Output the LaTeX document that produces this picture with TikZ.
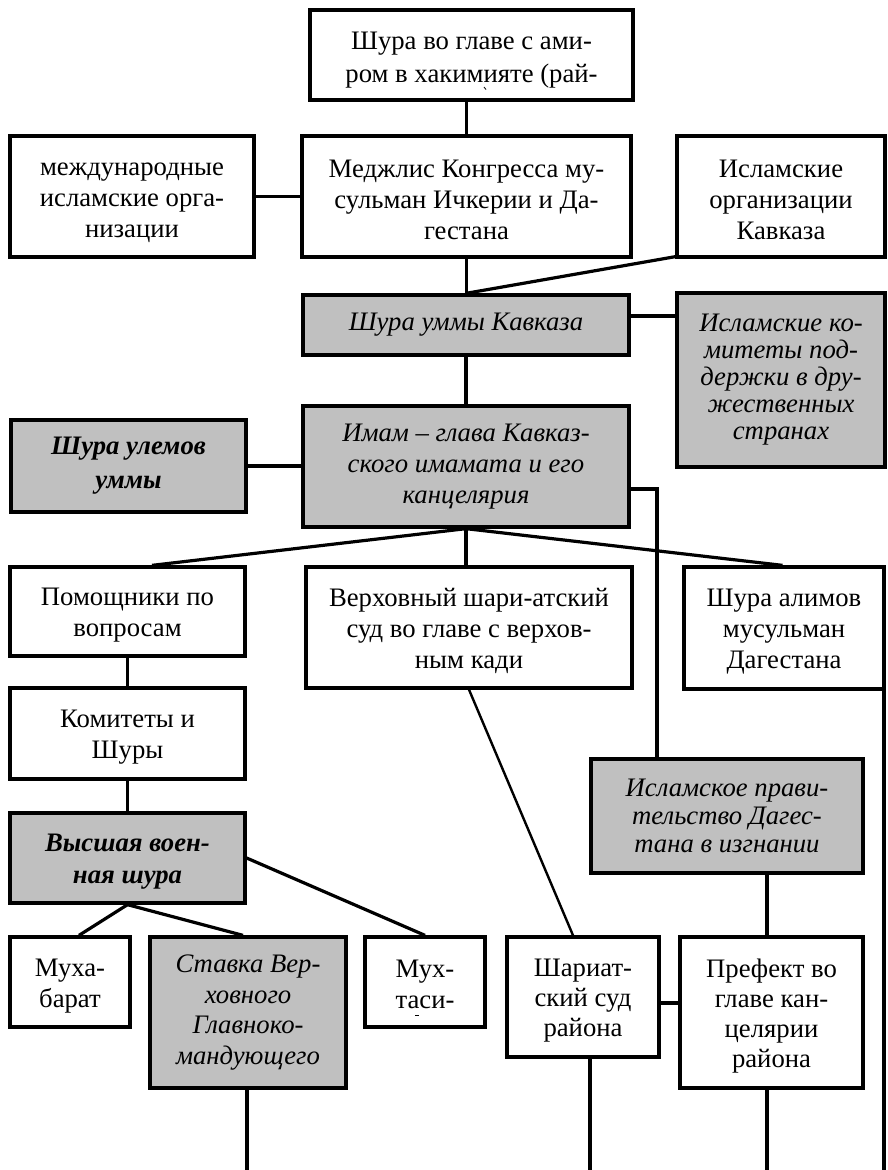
\documentclass[tikz,border=0pt]{standalone}
\usepackage{fontspec}
\setmainfont{Liberation Serif}
\definecolor{boxgray}{RGB}{192,192,192}
\newcommand\fsz{\fontsize{26.7}{31}\selectfont}
\newcommand\dn{\rule{0pt}{25pt}}
\tikzset{
  box/.style={draw, line width=3.3pt, inner sep=0pt, align=center, font=\fsz},
  graybox/.style={box, fill=boxgray},
  conn/.style={line width=3.2pt},
  thinconn/.style={line width=2.4pt},
  txt/.style={inner sep=0pt, align=center, font=\fsz}
}
\begin{document}
\begin{tikzpicture}[x=1pt,y=-1pt]
\useasboundingbox (0,0) rectangle (887,1170);
% top
\node[box, minimum width=323pt, minimum height=90pt] (top) at (471.5,55) {};
\node[txt, font=\fontsize{26.7}{33}\selectfont] (toptext) at (471.5,60) {Шура во главе с ами-\\ром в хакимияте (рай-};
\draw[line width=0.8pt] (484,87) -- (486,89.5);
% row 2
\node[box, minimum width=244pt, minimum height=121pt] (intl) at (132,196.5) {\dn международные\\исламские орга-\\низации};
\node[box, minimum width=329pt, minimum height=121pt] (medz) at (466.5,196.5) {\dn Меджлис Конгресса му-\\сульман Ичкерии и Да-\\гестана};
\node[box, minimum width=208pt, minimum height=121pt] (cauc) at (781,196.5) {\dn Исламские\\организации\\Кавказа};
% row 3
\node[graybox, minimum width=326pt, minimum height=60pt] (ummy) at (466,325) {\itshape Шура уммы Кавказа};
\node[graybox, minimum width=208pt, minimum height=174pt, font=\fontsize{26.7}{27}\selectfont] (comm) at (781,380) {\itshape Исламские ко-\\\itshape митеты под-\\\itshape держки в дру-\\\itshape жественных\\\itshape странах};
% row 4
\node[graybox, minimum width=326pt, minimum height=121pt] (imam) at (466,466.5) {\itshape Имам – глава Кавказ-\\\itshape ского имамата и его\\\itshape канцелярия};
\node[graybox, minimum width=235pt, minimum height=92pt, font=\fontsize{26.7}{34}\selectfont] (ulem) at (128.5,466) {\bfseries\itshape Шура улемов\\\bfseries\itshape уммы};
% row 5
\node[box, minimum width=235pt, minimum height=89pt] (pom) at (127.5,611.5) {\dn Помощники по\\вопросам};
\node[box, minimum width=326pt, minimum height=121pt] (verh) at (469,627.5) {\dn Верховный шари-атский\\суд во главе с верхов-\\ным кади};
\node[box, minimum width=200pt, minimum height=122pt] (alim) at (784,628) {\dn Шура алимов\\мусульман\\Дагестана};
% left column
\node[box, minimum width=235pt, minimum height=91pt] (komi) at (127.5,733.5) {\dn Комитеты и\\Шуры};
\node[graybox, minimum width=235pt, minimum height=90pt, font=\fontsize{26.7}{32}\selectfont] (vyss) at (127.5,858) {\dn\bfseries\itshape Высшая воен-\\\bfseries\itshape ная шура};
% government
\node[graybox, minimum width=272pt, minimum height=114pt, font=\fontsize{26.7}{28}\selectfont] (govt) at (727,816) {\itshape Исламское прави-\\\itshape тельство Дагес-\\\itshape тана в изгнании};
% bottom row
\node[box, minimum width=120pt, minimum height=90pt] (mukh) at (70,982) {\dn Муха-\\барат};
\node[graybox, minimum width=196pt, minimum height=151pt, font=\fontsize{26.7}{30.5}\selectfont] (stav) at (248,1012.5) {\itshape Ставка Вер-\\\itshape ховного\\\itshape Главноко-\\\itshape мандующего};
\node[box, minimum width=120pt, minimum height=90pt] (mukt) at (425,982) {};
\node[txt] (mukttext) at (425,984) {Мух-\\таси-};
\draw[line width=1pt] (415,1015) -- (419,1015);
\node[box, minimum width=152pt, minimum height=120pt, font=\fontsize{26.7}{30}\selectfont] (shar) at (583,997) {\dn Шариат-\\ский суд\\района};
\node[box, minimum width=183pt, minimum height=151pt, font=\fontsize{26.7}{30}\selectfont] (pref) at (771.5,1012.5) {\dn Префект во\\главе кан-\\целярии\\района};
% bottom coordinates
\coordinate (e1) at (247,1170);
\coordinate (e2) at (590,1170);
\coordinate (e3) at (767,1170);
\coordinate (e4) at (884,1170);
% connectors
\draw[conn] (top.south -| medz.north) -- (medz.north);
\draw[conn] (intl.east) -- (intl.east -| medz.west);
\draw[conn] (medz.south) -- (medz.south |- ummy.north);
\draw[conn] ([yshift=2pt]cauc.south west) -- (ummy.north);
\draw[conn] ([yshift=9pt]ummy.east) -- ([yshift=9pt]ummy.east -| comm.west);
\draw[conn] (ummy.south) -- (ummy.south |- imam.north);
\draw[conn] (ulem.east) -- (ulem.east -| imam.west);
\draw[conn] ([yshift=-22.5pt]imam.east) -| ([xshift=-70pt]govt.north);
\draw[conn] (imam.south) -- ([xshift=24.5pt]pom.north);
\draw[conn] (imam.south) -- (imam.south |- verh.north);
\draw[conn] (imam.south) -- ([xshift=-1.5pt]alim.north);
\draw[conn] (pom.south) -- (komi.north);
\draw[conn] (komi.south) -- (vyss.north);
\draw[conn] (vyss.south) -- ([xshift=9pt]mukh.north);
\draw[conn] (vyss.south) -- ([xshift=-5pt]stav.north);
\draw[conn] (vyss.east) -- (mukt.north);
\draw[thinconn] (verh.south) -- ([xshift=-10pt]shar.north);
\draw[conn] ([xshift=-4.5pt]pref.north) -- ([xshift=-4.5pt]pref.north |- govt.south);
\draw[conn] ([yshift=-6pt]shar.east) -- ([yshift=-6pt]shar.east -| pref.west);
\draw[conn] (stav.south -| e1) -- (e1);
\draw[conn] (shar.south -| e2) -- (e2);
\draw[conn] (pref.south -| e3) -- (e3);
\draw[conn] (alim.south east -| e4) -- (e4);
\end{tikzpicture}
\end{document}
